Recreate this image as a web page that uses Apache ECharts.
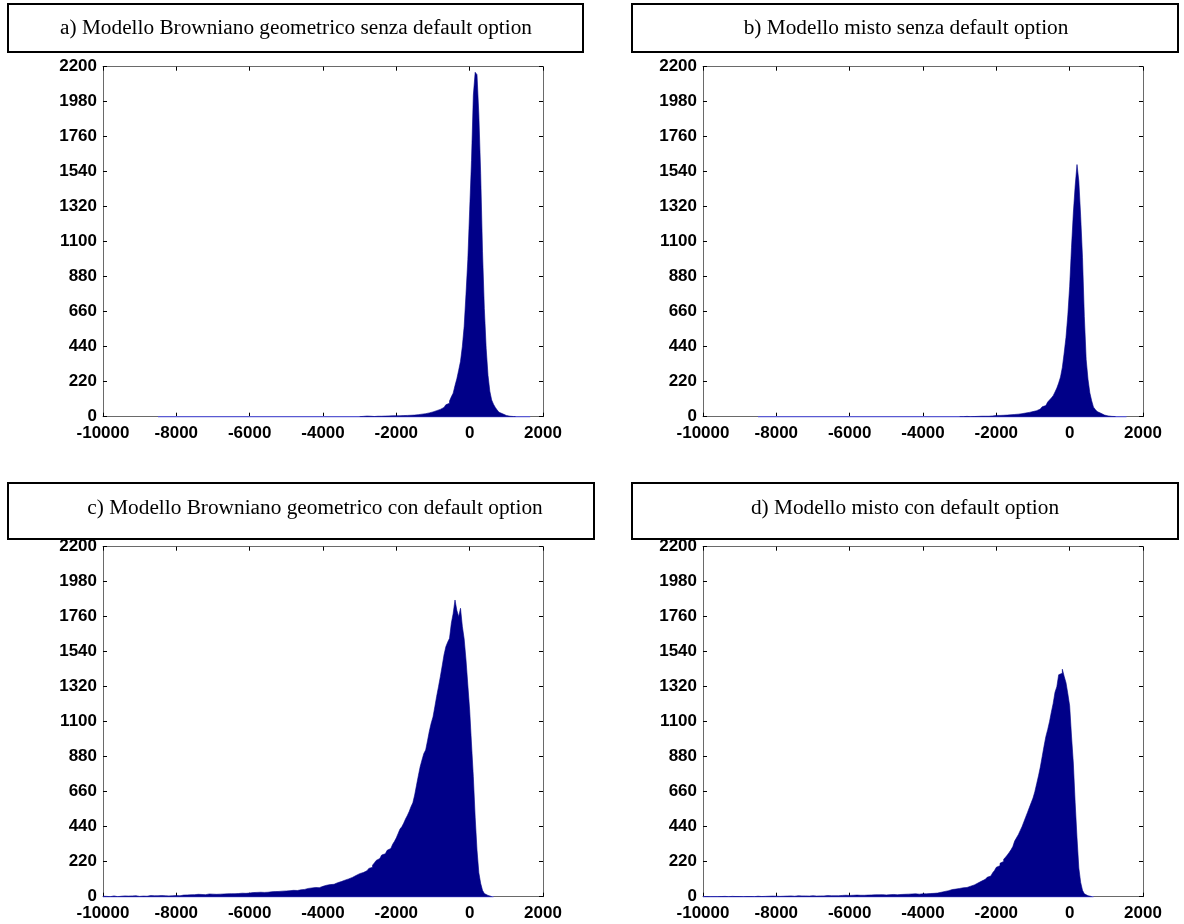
<!DOCTYPE html>
<html>
<head>
<meta charset="utf-8">
<script src="https://cdn.jsdelivr.net/npm/echarts@6/dist/echarts.min.js"></script>
<style>
html,body{margin:0;padding:0;background:#fff;}
#chart{width:1184px;height:924px;}
</style>
</head>
<body>
<div id="chart"></div>
<script>
// ---------- data ----------
const BIN = 50;
const xTicks = [-10000, -8000, -6000, -4000, -2000, 0, 2000];
const yTicks = [0, 220, 440, 660, 880, 1100, 1320, 1540, 1760, 1980, 2200];

const titleA = "a) Modello Browniano geometrico senza default option";
const titleB = "b) Modello misto senza default option";
const titleC = "c) Modello Browniano geometrico con default option";
const titleD = "d) Modello misto con default option";

// panel a: counts per 50-unit bin starting at aStart
const aStart = -3000;
const aRange = [-8500, 1650];
const aCounts = [
  0,2,5,4,6,3,2,1,2,3,
  2,3,2,4,3,5,4,6,5,6,
  7,6,8,7,9,8,10,9,11,10,
  12,13,15,16,18,19,21,24,27,30,
  35,38,42,46,52,58,66,75,85,98,
  125,148,196,238,292,348,442,568,772,988,
  1300,1610,2020,2165,2150,1900,1530,1040,680,430,
  260,160,105,78,58,42,28,18,12,8,
  5,3,2,1,1
];

// panel b
const bStart = -3000;
const bRange = [-8500, 1550];
const bCounts = [
  0,0,1,2,1,0,2,1,3,2,
  2,3,2,3,4,3,4,5,4,8,
  7,8,8,9,10,10,11,12,13,14,
  15,16,18,19,21,23,25,27,29,32,
  35,38,42,48,55,62,70,80,92,105,
  118,132,155,180,212,250,310,400,500,640,
  820,1065,1280,1450,1585,1480,1260,1000,630,360,
  235,150,100,60,45,32,22,15,10,7,
  5,3,2,1,1
];

// panel c
const cStart = -10000;
const cRange = [-10000, 650];
const cCounts = [
  3,2,4,0,3,5,2,0,4,3,
  2,5,3,4,0,5,3,6,4,2,
  5,4,6,3,5,7,4,6,5,6,
  4,7,5,6,8,5,7,6,9,7,
  8,6,9,10,7,11,9,12,10,13,
  12,15,11,14,16,13,15,17,14,16,
  17,15,18,16,19,17,20,18,21,19,
  21,19,22,20,23,22,24,21,25,23,
  24,26,23,27,25,28,26,27,29,28,
  29,31,28,32,30,33,31,35,33,36,
  36,38,35,40,42,39,44,43,47,46,
  48,52,50,55,53,58,60,57,63,65,
  68,72,70,76,80,78,85,88,92,95,
  100,104,108,112,118,121,127,133,138,145,
  147,152,158,163,170,178,185,198,212,228,
  240,251,262,270,282,292,303,314,330,348,
  370,398,425,440,462,488,510,535,566,590,
  639,700,760,817,860,900,922,980,1040,1090,
  1130,1194,1260,1320,1383,1450,1520,1571,1600,1624,
  1719,1780,1865,1800,1760,1813,1700,1620,1488,1330,
  1174,960,754,500,293,150,84,40,20,8,3,1
];

// panel d
const dStart = -10000;
const dRange = [-10000, 650];
const dCounts = [
  0,1,0,0,2,0,1,0,0,1,
  0,2,1,0,1,2,0,1,2,1,
  1,0,2,1,3,1,2,0,2,3,
  2,1,3,2,1,3,2,4,2,3,
  3,2,4,3,2,4,3,5,4,3,
  4,6,3,5,4,5,6,4,5,6,
  5,4,6,5,7,5,6,7,5,6,
  7,6,8,6,7,8,7,9,7,8,
  8,9,7,10,8,9,10,9,11,10,
  10,11,9,12,10,12,11,13,12,11,
  12,13,12,14,13,12,15,14,13,15,
  15,16,14,17,16,18,17,16,19,18,
  19,18,21,20,22,21,24,23,26,28,
  30,33,36,38,42,45,44,48,50,52,
  54,56,60,58,63,66,70,74,80,86,
  92,98,105,109,115,122,130,140,150,165,
  185,195,210,222,235,248,262,278,295,315,
  350,370,390,415,440,470,500,530,560,590,
  620,660,710,760,815,880,945,1006,1050,1100,
  1160,1215,1285,1320,1395,1405,1430,1385,1345,1275,
  1200,1010,840,590,370,180,90,40,18,6,2,1
];

// ---------- layout / style ----------
const panels = [
  {title: titleA, start: aStart, counts: aCounts, range: aRange,
   grid: {left: 103, top: 66.7, width: 440, height: 350},
   box: {x: 8, y: 4, width: 575, height: 48}, tx: 296, ty: 28},
  {title: titleB, start: bStart, counts: bCounts, range: bRange,
   grid: {left: 703, top: 66.7, width: 440, height: 350},
   box: {x: 632, y: 4, width: 546, height: 48}, tx: 906, ty: 28},
  {title: titleC, start: cStart, counts: cCounts, range: cRange,
   grid: {left: 103, top: 546.7, width: 440, height: 350},
   box: {x: 8, y: 483, width: 586, height: 56}, tx: 315, ty: 508},
  {title: titleD, start: dStart, counts: dCounts, range: dRange,
   grid: {left: 703, top: 546.7, width: 440, height: 350},
   box: {x: 632, y: 483, width: 546, height: 56}, tx: 905, ty: 508}
];

const AXC = '#6a6a6a';
const FILL = '#000088';
const BASE = '#5a5ad2';
const labelFont = {color: '#000', fontFamily: 'Liberation Sans', fontWeight: 'bold', fontSize: 17};

const grids = [], xAxes = [], yAxes = [], series = [], graphics = [];

panels.forEach((p, i) => {
  grids.push(Object.assign({containLabel: false}, p.grid));
  const xBase = {
    gridIndex: i, type: 'value',
    min: xTicks[0], max: xTicks[xTicks.length - 1], interval: xTicks[1] - xTicks[0],
    axisLine: {show: true, onZero: false, lineStyle: {color: AXC, width: 1}},
    axisTick: {show: true, inside: true, length: 4, lineStyle: {color: '#000', width: 1}},
    splitLine: {show: false}
  };
  xAxes.push(Object.assign({}, xBase, {position: 'bottom',
    axisLabel: Object.assign({show: true, margin: 8, formatter: v => String(v)}, labelFont)}));
  xAxes.push(Object.assign({}, xBase, {position: 'top', axisLabel: {show: false}}));
  const yBase = {
    gridIndex: i, type: 'value',
    min: yTicks[0], max: yTicks[yTicks.length - 1], interval: yTicks[1] - yTicks[0],
    axisLine: {show: true, onZero: false, lineStyle: {color: AXC, width: 1}},
    axisTick: {show: true, inside: true, length: 4, lineStyle: {color: '#000', width: 1}},
    splitLine: {show: false}
  };
  yAxes.push(Object.assign({}, yBase, {position: 'left',
    axisLabel: Object.assign({show: true, margin: 6, formatter: v => String(v)}, labelFont)}));
  yAxes.push(Object.assign({}, yBase, {position: 'right', axisLabel: {show: false}}));

  // baseline of histogram range (zero-count bins)
  series.push({
    type: 'line', xAxisIndex: 2 * i, yAxisIndex: 2 * i,
    data: [[p.range[0], 0], [p.range[1], 0]],
    symbol: 'none', silent: true, z: 1,
    lineStyle: {color: BASE, width: 1.5}
  });
  // histogram as filled step line
  const pts = p.counts.map((c, k) => [p.start + k * BIN, c]);
  pts.push([p.start + p.counts.length * BIN, 0]);
  series.push({
    type: 'line', xAxisIndex: 2 * i, yAxisIndex: 2 * i,
    data: pts, step: 'end', symbol: 'none', silent: true, z: 2,
    lineStyle: {color: FILL, width: 0.6},
    areaStyle: {color: FILL, opacity: 1}
  });

  graphics.push({
    type: 'rect', shape: p.box, z: 10,
    style: {fill: '#fff', stroke: '#000', lineWidth: 2}
  });
  graphics.push({
    type: 'text', x: p.tx, y: p.ty, z: 11,
    style: {
      text: p.title, fill: '#000',
      font: '21.3px "Liberation Serif"',
      align: 'center', verticalAlign: 'middle',
      textAlign: 'center', textVerticalAlign: 'middle'
    }
  });
});

const chart = echarts.init(document.getElementById('chart'), null, {renderer: 'canvas'});
chart.setOption({
  backgroundColor: '#fff',
  animation: false,
  grid: grids,
  xAxis: xAxes,
  yAxis: yAxes,
  series: series,
  graphic: graphics
});
</script>
</body>
</html>
